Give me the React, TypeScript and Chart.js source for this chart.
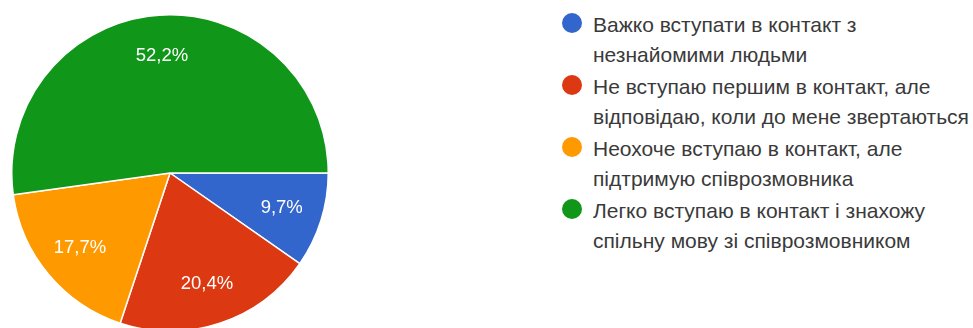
import React, { useEffect, useRef } from "react";
import { Chart, registerables } from "chart.js";

Chart.register(...registerables);

const categories: string[][] = [
  ["Важко вступати в контакт з", "незнайомими людьми"],
  ["Не вступаю першим в контакт, але", "відповідаю, коли до мене звертаються"],
  ["Неохоче вступаю в контакт, але", "підтримую співрозмовника"],
  ["Легко вступаю в контакт і знахожу", "спільну мову зі співрозмовником"],
];
const percentages: number[] = [9.7, 20.4, 17.7, 52.2];
const colors: string[] = ["#3366cc", "#dc3912", "#ff9900", "#109618"];

const FONT = "'Liberation Sans', Arial, sans-serif";

const labelPlugin = {
  id: "sliceLabels",
  afterDatasetsDraw(chart: any) {
    const { ctx } = chart;
    const meta = chart.getDatasetMeta(0);
    ctx.save();
    ctx.fillStyle = "#ffffff";
    ctx.font = `18.5px ${FONT}`;
    ctx.textAlign = "center";
    ctx.textBaseline = "middle";
    meta.data.forEach((arc: any, i: number) => {
      const { x, y, startAngle, endAngle, outerRadius } = arc.getProps(
        ["x", "y", "startAngle", "endAngle", "outerRadius"],
        true
      );
      const mid = (startAngle + endAngle) / 2;
      const r = outerRadius * 0.74;
      const txt = percentages[i].toFixed(1).replace(".", ",") + "%";
      ctx.fillText(txt, x + Math.cos(mid) * r, y + Math.sin(mid) * r);
    });
    ctx.restore();
  },
};

export default function App() {
  const ref = useRef<HTMLCanvasElement | null>(null);
  useEffect(() => {
    if (!ref.current) return;
    const chart = new Chart(ref.current, {
      type: "pie",
      data: {
        labels: categories.map((c) => c.join(" ")),
        datasets: [
          {
            data: percentages,
            backgroundColor: colors,
            borderColor: "#ffffff",
            borderWidth: 1.5,
          },
        ],
      },
      options: {
        responsive: true,
        maintainAspectRatio: false,
        animation: false,
        rotation: 90,
        layout: { padding: 0 },
        plugins: {
          legend: { display: false },
          tooltip: { enabled: false },
        },
      },
      plugins: [labelPlugin],
    });
    return () => chart.destroy();
  }, []);

  return (
    <div
      style={{
        position: "fixed",
        left: 0,
        top: 0,
        width: 973,
        height: 328,
        overflow: "hidden",
        background: "#ffffff",
      }}
    >
      <div style={{ position: "absolute", left: 11, top: 14, width: 318, height: 318 }}>
        <canvas ref={ref} />
      </div>
      <div
        style={{
          position: "absolute",
          left: 562,
          top: 10,
          fontFamily: FONT,
          fontSize: 21,
          color: "#3a3a3a",
          lineHeight: "29.5px",
        }}
      >
        {categories.map((lines, i) => (
          <div key={i} style={{ position: "relative", paddingLeft: 31, marginBottom: 3 }}>
            <span
              style={{
                position: "absolute",
                left: 0,
                top: 3,
                width: 20,
                height: 20,
                borderRadius: "50%",
                background: colors[i],
              }}
            />
            {lines.map((l, j) => (
              <div key={j} style={{ whiteSpace: "nowrap" }}>
                {l}
              </div>
            ))}
          </div>
        ))}
      </div>
    </div>
  );
}
